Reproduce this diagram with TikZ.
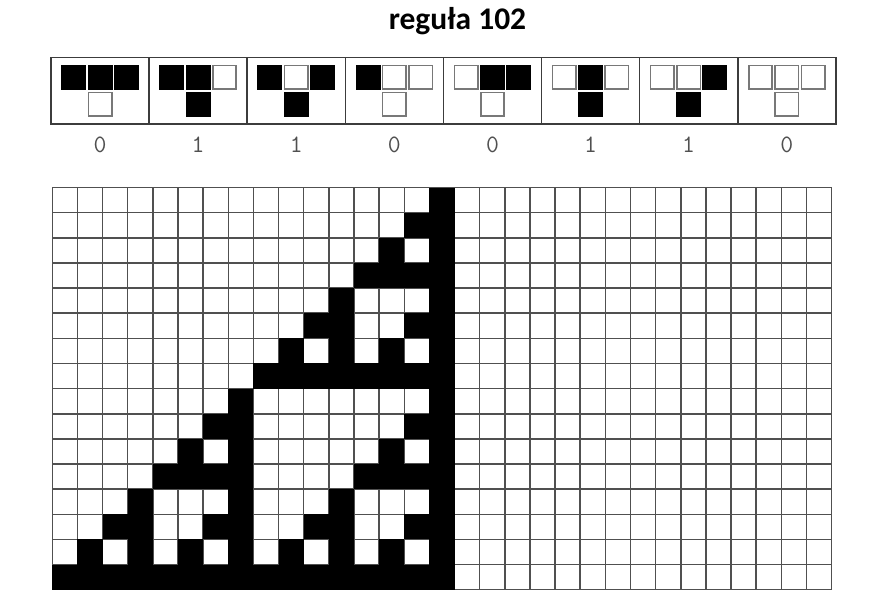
\documentclass[tikz,border=0pt]{standalone}
\usepackage{fontspec}
\newfontfamily\titlefont{Carlito}
\definecolor{boxgray}{RGB}{60,60,60}
\definecolor{sqgray}{RGB}{120,120,120}
\definecolor{gridgray}{RGB}{80,80,80}
\definecolor{digitgray}{RGB}{80,80,80}
\begin{document}
\begin{tikzpicture}[
    x=1pt, y=-1pt,
    rulebox/.style={draw=boxgray, line width=1.6pt, minimum width=98.1pt, minimum height=66.3pt, inner sep=0pt},
    cell0/.style={draw=sqgray, line width=1.6pt, fill=white},
    cell1/.style={draw=black, line width=1.6pt, fill=black},
    digit/.style={font=\ttfamily\fontsize{25}{30}\selectfont, text=digitgray, inner sep=0pt},
    gridline/.style={draw=gridgray, line width=1.5pt}
]
  \useasboundingbox (0,0) rectangle (886,602);

  % title
  \node[font=\titlefont\bfseries\fontsize{31.5}{36}\selectfont, inner sep=0pt] (title) at (457.5,21) {reguła 102};

  % rule table
  \foreach \i in {0,...,7} {
    \pgfmathsetmacro{\cx}{51+98.1*\i+49.05}
    \pgfmathtruncatemacro{\p}{7-\i}
    \pgfmathtruncatemacro{\bl}{floor(\p/4)}
    \pgfmathtruncatemacro{\bm}{mod(floor(\p/2),2)}
    \pgfmathtruncatemacro{\br}{mod(\p,2)}
    \pgfmathtruncatemacro{\out}{mod(floor(102/2^\p),2)}
    \node[rulebox] (rule\i) at (\cx,90.85) {};
    \draw[cell\bl] (\cx-38,65.7) rectangle ++(23.4,23.4);
    \draw[cell\bm] (\cx-11.7,65.7) rectangle ++(23.4,23.4);
    \draw[cell\br] (\cx+14.6,65.7) rectangle ++(23.4,23.4);
    \draw[cell\out] (\cx-11.7,92.6) rectangle ++(23.4,23.4);
    \node[digit] (lab\i) at (\cx,145) {\out};
  }

  % evolution
  \begin{scope}[shift={(52.3,187.5)}, x=25.14pt, y=-25.14pt]
    \foreach \c in {0,...,31} \draw[gridline] (\c,0) -- (\c,16);
    \foreach \r in {0,...,16} \draw[gridline] (0,\r) -- (31,\r);
    \foreach \r in {0,...,15}
      \foreach \c in {0,...,15} {
        \pgfmathtruncatemacro{\k}{15-\c}
        \pgfmathtruncatemacro{\odd}{(mod(\k,2)<=mod(\r,2)) && (mod(floor(\k/2),2)<=mod(floor(\r/2),2)) && (mod(floor(\k/4),2)<=mod(floor(\r/4),2)) && (mod(floor(\k/8),2)<=mod(floor(\r/8),2))}
        \ifnum\odd=1 \fill (\c,\r) rectangle ++(1,1); \fi
      }
  \end{scope}
\end{tikzpicture}
\end{document}
